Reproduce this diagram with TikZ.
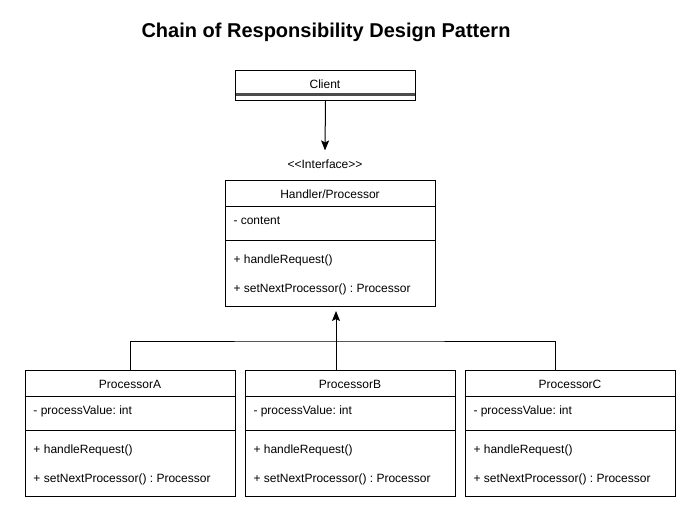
\documentclass[tikz,border=0pt]{standalone}
\usepackage{fontspec}
\setmainfont{Liberation Sans}
\usetikzlibrary{positioning, arrows.meta}
\frenchspacing

\begin{document}
\begin{tikzpicture}[x=0.75pt, y=-0.75pt, line width=0.75pt, font=\fontsize{9}{11}\selectfont,
		umlbox/.style={draw, anchor=north west, inner sep=0pt, minimum width=157.5pt, minimum height=94.5pt},
		member/.style={anchor=west, inner sep=0pt},
		inherit/.style={-{Stealth[length=7.5pt,width=6pt,inset=1.5pt]}, shorten >=3pt}]
		\useasboundingbox (0,0) rectangle (686,507);
		
		\node[font=\fontsize{15}{18}\selectfont\bfseries] (title) at (326,32) {Chain of Responsibility Design Pattern};
		
		% client
		\node[umlbox, minimum width=135pt, minimum height=22.5pt] (client) at (235,70) {};
		\node (clientname) at (325,84) {Client};
		\draw[line width=1.6pt, black!70] (235.5,94.5) -- (414.5,94.5);
		\node[inner ysep=6.5pt] (iface) at (325,164) {<\kern0pt<Interface>\kern0pt>};
		
		% handler
		\node[umlbox] (handler) at (225,180) {};
		\node (handlername) at (330,194) {Handler/Processor};
		\draw (225,206) -- (435,206);
		\draw (225,240) -- (435,240);
		\node[member] (hfield) at (233,221) {- content};
		\node[member] (hhandle) at (233,260) {+ handleRequest()};
		\node[member] (hnext) at (233,289) {+ setNextProcessor() : Processor};
		
		% processors
		\foreach \name/\x in {A/25, B/245, C/465} {
			\node[umlbox] (proc\name) at (\x,370) {};
			\node (proc\name title) at (\x+105,384) {Processor\name};
			\draw (\x,396) -- (\x+210,396);
			\draw (\x,430) -- (\x+210,430);
			\node[member] (proc\name field) at (\x+8,411) {- processValue: int};
			\node[member] (proc\name handle) at (\x+8,450) {+ handleRequest()};
			\node[member] (proc\name next) at (\x+8,479) {+ setNextProcessor() : Processor};
		}
		
		\coordinate (joint) at (336,341);
		\coordinate (ctop) at (555,370);
		
		\draw[-{Stealth[length=7.5pt,width=6pt,inset=1.5pt]}] (client.south) -- (iface.north);
		\draw (procA.north) |- (joint) -| (ctop);
		\draw[inherit] (procB.north -| joint) -- (handler.south -| joint);
	\end{tikzpicture}
\end{document}
